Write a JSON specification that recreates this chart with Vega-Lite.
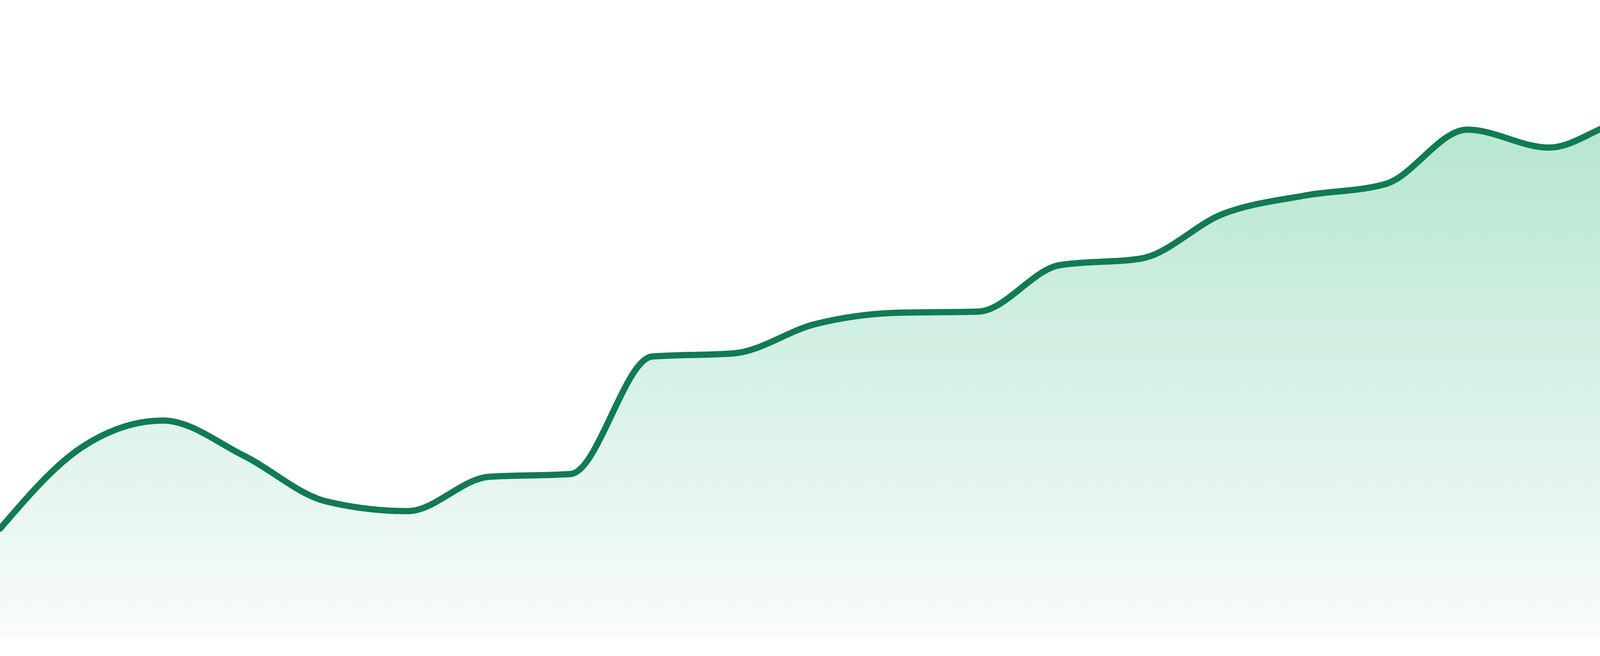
{
  "$schema": "https://vega.github.io/schema/vega-lite/v6.json",
  "width": 4800,
  "height": 1680,
  "autosize": {"type": "none"},
  "padding": 0,
  "background": "white",
  "config": {"view": {"stroke": null}},
  "data": {
    "values": [
      {"i": 0, "v": 326}, {"i": 1, "v": 534}, {"i": 2, "v": 603},
      {"i": 3, "v": 512}, {"i": 4, "v": 396}, {"i": 5, "v": 371},
      {"i": 6, "v": 459}, {"i": 7, "v": 466}, {"i": 8, "v": 767},
      {"i": 9, "v": 775}, {"i": 10, "v": 850}, {"i": 11, "v": 879},
      {"i": 12, "v": 882}, {"i": 13, "v": 1001}, {"i": 14, "v": 1018},
      {"i": 15, "v": 1132}, {"i": 16, "v": 1179}, {"i": 17, "v": 1209},
      {"i": 18, "v": 1348}, {"i": 19, "v": 1302}, {"i": 20, "v": 1373},
      {"i": 21, "v": 1378}, {"i": 22, "v": 1478}, {"i": 23, "v": 1370}
    ]
  },
  "encoding": {
    "x": {
      "field": "i",
      "type": "quantitative",
      "scale": {"domain": [0, 23], "nice": false, "zero": false},
      "axis": null
    },
    "y": {
      "field": "v",
      "type": "quantitative",
      "scale": {"domain": [0, 1680], "nice": false},
      "axis": null
    }
  },
  "layer": [
    {
      "mark": {
        "type": "area",
        "interpolate": "monotone",
        "color": {
          "gradient": "linear",
          "x1": 0, "y1": 0, "x2": 0, "y2": 1,
          "stops": [
            {"offset": 0, "color": "#b0e4cd"},
            {"offset": 1, "color": "#f9fcfb"}
          ]
        }
      },
      "encoding": {"y2": {"datum": 48}}
    },
    {
      "mark": {
        "type": "line",
        "interpolate": "monotone",
        "color": "#117b52",
        "strokeWidth": 16,
        "strokeCap": "round",
        "strokeJoin": "round"
      }
    }
  ]
}
